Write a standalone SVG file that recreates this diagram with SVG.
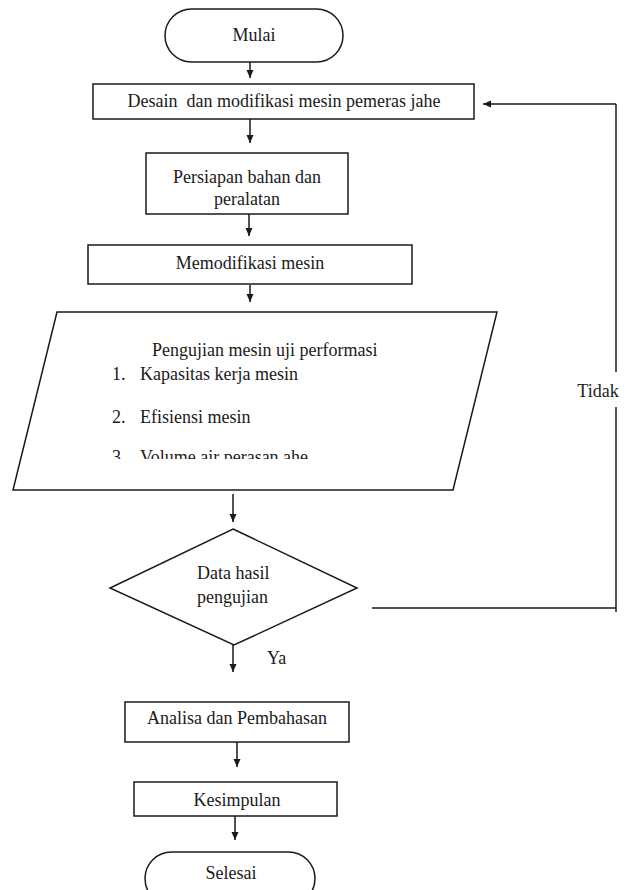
<svg xmlns="http://www.w3.org/2000/svg" width="627" height="890" viewBox="0 0 627 890">
<style>
.s{fill:#fff;stroke:#1a1a1a;stroke-width:1.5}
.t{font-family:"Liberation Serif","Times New Roman",serif;font-size:18px;fill:#1a1a1a}
.c{text-anchor:middle}
.ln{fill:none;stroke:#1a1a1a;stroke-width:1.5}
</style>
<defs>
<marker id="ah" markerUnits="userSpaceOnUse" markerWidth="10" markerHeight="10" refX="8" refY="4" orient="auto">
<path d="M0,0.5 L8,4 L0,7.5 Z" fill="#1a1a1a"/>
</marker>
<clipPath id="clip3"><rect x="0" y="440" width="627" height="19"/></clipPath>
</defs>
<rect width="627" height="890" fill="#fff"/>
<g id="connectors">
<line class="ln" x1="250" y1="62" x2="250" y2="78" marker-end="url(#ah)"/>
<line class="ln" x1="250" y1="119" x2="250" y2="143" marker-end="url(#ah)"/>
<line class="ln" x1="249" y1="214" x2="249" y2="236" marker-end="url(#ah)"/>
<line class="ln" x1="250" y1="285" x2="250" y2="302" marker-end="url(#ah)"/>
<line class="ln" x1="233" y1="494" x2="233" y2="522" marker-end="url(#ah)"/>
<line class="ln" x1="233" y1="645" x2="233" y2="672" marker-end="url(#ah)"/>
<line class="ln" x1="237" y1="742" x2="237" y2="767" marker-end="url(#ah)"/>
<line class="ln" x1="235" y1="816" x2="235" y2="840" marker-end="url(#ah)"/>
<polyline class="ln" points="372,608 616,608"/>
<line class="ln" x1="616" y1="612" x2="616" y2="407"/>
<line class="ln" x1="616" y1="372" x2="616" y2="104"/>
<line class="ln" x1="616" y1="104" x2="483" y2="104" marker-end="url(#ah)"/>
<text class="t c" x="598" y="397">Tidak</text>
<text class="t" x="267" y="664">Ya</text>
</g>
<g id="mulai">
<rect class="s" x="165" y="9" width="178" height="53" rx="26.5"/>
<text class="t c" x="254" y="41">Mulai</text>
</g>
<g id="desain">
<rect class="s" x="93" y="84" width="381" height="35"/>
<text class="t c" x="284" y="107" style="white-space:pre">Desain  dan modifikasi mesin pemeras jahe</text>
</g>
<g id="persiapan">
<rect class="s" x="146" y="153" width="202" height="61"/>
<text class="t c" x="247" y="183">Persiapan bahan dan</text>
<text class="t c" x="247" y="205">peralatan</text>
</g>
<g id="memodifikasi">
<rect class="s" x="88" y="245" width="324" height="39"/>
<text class="t c" x="250" y="269">Memodifikasi mesin</text>
</g>
<g id="pengujian">
<polygon class="s" points="57,312 497,312 453,490 13,490"/>
<text class="t" x="152" y="356">Pengujian mesin uji performasi</text>
<text class="t" x="112" y="380">1.</text>
<text class="t" x="140" y="380">Kapasitas kerja mesin</text>
<text class="t" x="112" y="423">2.</text>
<text class="t" x="140" y="423">Efisiensi mesin</text>
<g clip-path="url(#clip3)">
<text class="t" x="112" y="463">3.</text>
<text class="t" x="140" y="463">Volume air perasan ahe</text>
</g>
</g>
<g id="data-hasil">
<polygon class="s" points="233,529 357,588 234,645 110,588"/>
<text class="t" x="197" y="579">Data hasil</text>
<text class="t" x="197" y="603">pengujian</text>
</g>
<g id="analisa">
<rect class="s" x="125" y="702" width="224" height="40"/>
<text class="t c" x="237" y="724">Analisa dan Pembahasan</text>
</g>
<g id="kesimpulan">
<rect class="s" x="134" y="782" width="203" height="34"/>
<text class="t c" x="237" y="806">Kesimpulan</text>
</g>
<g id="selesai">
<rect class="s" x="145" y="852" width="170" height="53" rx="26.5"/>
<text class="t c" x="231" y="879">Selesai</text>
</g>
</svg>
